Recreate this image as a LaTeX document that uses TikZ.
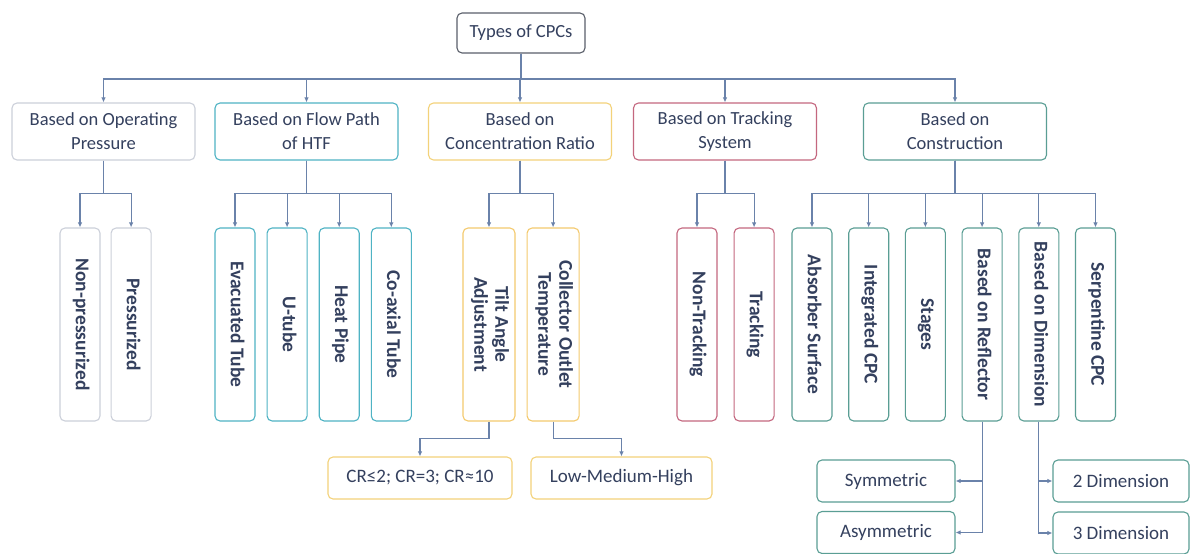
\documentclass[tikz,border=0pt]{standalone}
\usepackage{fontspec}
\setmainfont{Carlito}
\usetikzlibrary{arrows.meta,positioning}
\definecolor{txt}{HTML}{34405E}
\definecolor{wire}{HTML}{6A82AA}
\definecolor{topc}{HTML}{5A5F6A}
\definecolor{presc}{HTML}{CCD0DA}
\definecolor{flowc}{HTML}{4FB3C4}
\definecolor{concc}{HTML}{F3D27A}
\definecolor{trackc}{HTML}{C4677F}
\definecolor{consc}{HTML}{5A9E94}
\newcommand{\vtext}[1]{\rotatebox{-90}{\begin{tabular}{@{}c@{}}#1\end{tabular}}}

\begin{document}
\begin{tikzpicture}[x=1pt, y=-1pt, node distance=10pt,
  box/.style={draw, rounded corners=5pt, align=center, line width=1.1pt, text=txt, fill=white, inner sep=2pt},
  head/.style={box, minimum width=128pt, minimum height=40pt, font=\fontsize{18.5}{24}\selectfont},
  cat/.style={box, minimum width=183pt, minimum height=57pt, font=\fontsize{18.5}{24}\selectfont},
  leaf/.style={box, minimum width=40pt, minimum height=193pt, font=\bfseries\fontsize{19.5}{21}\selectfont},
  wide/.style={leaf, minimum width=52pt},
  sub/.style={box, minimum width=138pt, minimum height=42pt, font=\fontsize{19}{22}\selectfont},
  arr/.style={draw=wire, line width=1.1pt, -{Latex[length=5pt,width=4.5pt]}}]
\path[fill=white, use as bounding box] (0,0) rectangle (1192,554);

\node[head, draw=topc] (top) at (521,33) {Types of CPCs};

\node[cat, draw=presc] (op) at (103.5,131.5) {Based on Operating\\Pressure};
\node[cat, draw=flowc] (flow) at (306.5,131.5) {Based on Flow Path\\of HTF};
\node[cat, draw=concc] (conc) at (520,131.5) {Based on\\Concentration Ratio};
\node[cat, draw=trackc] (track) at (725,131.5) {Based on Tracking\\System};
\node[cat, draw=consc] (cons) at (955,131.5) {Based on\\Construction};

% second row
\node[leaf, draw=presc] (npres) at (80,324.5) {\vtext{Non-pressurized}};
\node[leaf, draw=presc, right=of npres] (pres) {\vtext{Pressurized}};

\node[leaf, draw=flowc] (evac) at (235,324.5) {\vtext{Evacuated Tube}};
\node[leaf, draw=flowc, right=11pt of evac] (utube) {\vtext{U-tube}};
\node[leaf, draw=flowc, right=11pt of utube] (hpipe) {\vtext{Heat Pipe}};
\node[leaf, draw=flowc, right=11pt of hpipe] (coax) {\vtext{Co-axial Tube}};

\node[wide, draw=concc!90!orange] (tilt) at (489,324.5) {\vtext{Tilt Angle\\Adjustment}};
\node[wide, draw=concc!90!orange, right=11pt of tilt] (coll) {\vtext{Collector Outlet\\Temperature}};

\node[leaf, draw=trackc] (ntrk) at (697,324.5) {\vtext{Non-Tracking}};
\node[leaf, draw=trackc, right=16pt of ntrk] (trk) {\vtext{Tracking}};

\node[leaf, draw=consc] (absb) at (812,324.5) {\vtext{Absorber Surface}};
\node[leaf, draw=consc, right=15.6pt of absb] (integ) {\vtext{Integrated CPC}};
\node[leaf, draw=consc, right=15.6pt of integ] (stages) {\vtext{Stages}};
\node[leaf, draw=consc, right=15.6pt of stages] (refl) {\vtext{Based on Reflector}};
\node[leaf, draw=consc, right=15.6pt of refl] (dim) {\vtext{Based on Dimension}};
\node[leaf, draw=consc, right=15.6pt of dim] (serp) {\vtext{Serpentine CPC}};

% third row
\node[sub, draw=concc, minimum width=184pt] (cr) at (420,478) {CR≤2; CR=3; CR≈10};
\node[sub, draw=concc, minimum width=181pt] (lmh) at (621.5,478) {Low-Medium-High};
\node[sub, draw=consc] (sym) at (886,481) {Symmetric};
\node[sub, draw=consc] (asym) at (886,532.5) {Asymmetric};
\node[sub, draw=consc, minimum width=136pt] (dtwo) at (1121,481) {2 Dimension};
\node[sub, draw=consc, minimum width=136pt] (dthree) at (1121,533) {3 Dimension};

\coordinate (bus) at (521,79);
\foreach \n in {op,flow,conc,track,cons}
  \draw[arr] (top.south) |- (\n.north |- bus) -- (\n.north);
\foreach \p/\c in {op/npres,op/pres,flow/evac,flow/utube,flow/hpipe,flow/coax,conc/tilt,conc/coll,track/ntrk,track/trk,cons/absb,cons/integ,cons/stages,cons/refl,cons/dim,cons/serp}
  \draw[arr] (\p.south) -- ++(0,33) -| (\c.north);
\draw[arr] (tilt.south) -- ++(0,17) -| (cr.north);
\draw[arr] (coll.south) -- ++(0,17) -| (lmh.north);
\draw[arr] (refl.south) |- (sym.east);
\draw[arr] (refl.south) |- (asym.east);
\draw[arr] (dim.south) |- (dtwo.west);
\draw[arr] (dim.south) |- (dthree.west);
\end{tikzpicture}
\end{document}
